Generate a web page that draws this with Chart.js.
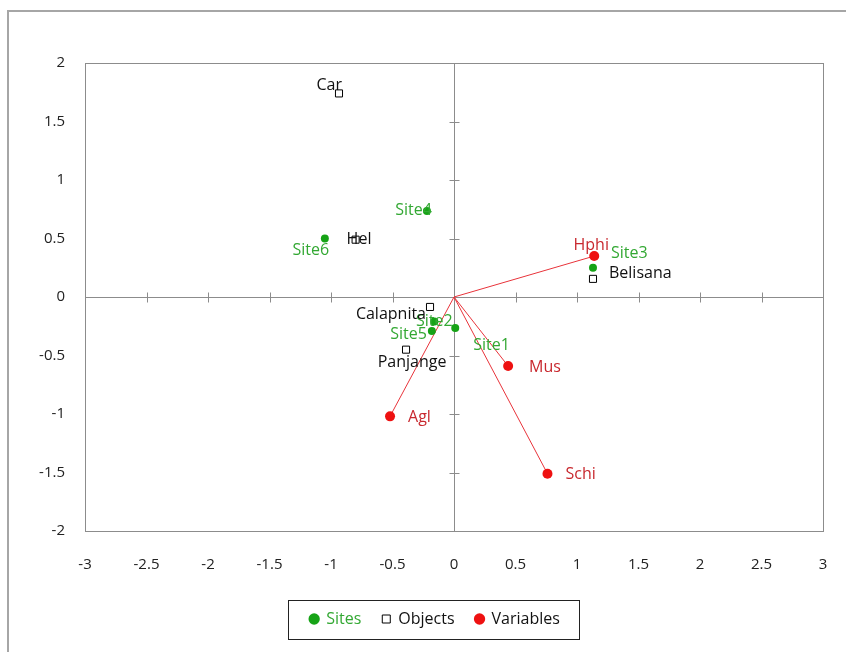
<!DOCTYPE html>
<html>
<head>
<meta charset="utf-8">
<script src="https://cdn.jsdelivr.net/npm/chart.js@4"></script>
<style>
    body { margin: 0; background: #fff; }
    #wrap { position: relative; width: 846px; height: 652px; overflow: hidden; }
    #frame { position: absolute; left: 7px; top: 10px; width: 860px; height: 680px; border: 2px solid #a6a6a6; box-sizing: border-box; }
    canvas { position: absolute; left: 0; top: 0; }
</style>
</head>
<body>
<div id="wrap">
    <div id="frame"></div>
    <canvas id="biplot" width="846" height="652"></canvas>
</div>
<script>
// axis ticks
const xTicks = [-3, -2.5, -2, -1.5, -1, -0.5, 0, 0.5, 1, 1.5, 2, 2.5, 3];
const yTicks = [-2, -1.5, -1, -0.5, 0, 0.5, 1, 1.5, 2];

// sites
const siteNames = ['Site1', 'Site2', 'Site3', 'Site4', 'Site5', 'Site6'];
const siteX = [0.01, -0.16, 1.13, -0.22, -0.18, -1.05];
const siteY = [-0.265, -0.21, 0.25, 0.735, -0.29, 0.50];

// objects
const objectNames = ['Car', 'Hel', 'Belisana', 'Calapnita', 'Panjange'];
const objectX = [-0.935, -0.80, 1.13, -0.195, -0.39];
const objectY = [1.74, 0.49, 0.155, -0.085, -0.45];

// variables
const varNames = ['Hphi', 'Mus', 'Agl', 'Schi'];
const varX = [1.14, 0.44, -0.52, 0.76];
const varY = [0.35, -0.59, -1.02, -1.51];

// label placement (pixel offset from the point, text alignment)
const siteLabelPos = [[18, 17, 'left'], [0, 0, 'center'], [18, -14, 'left'], [5, -1, 'right'], [-5, 4, 'right'], [-14, 12, 'center']];
const objectLabelPos = [[3, -8, 'right'], [-9, 0, 'left'], [16, -5, 'left'], [-4, 7, 'right'], [6, 13, 'center']];
const varLabelPos = [[-3, -11, 'center'], [21, 1, 'left'], [18, 1, 'left'], [18, 1, 'left']];

const GREEN = '#16a316';
const GREEN_TXT = '#33a833';
const RED = '#ee1111';
const RED_TXT = '#c8282e';
const AXIS = '#8c8c8c';
const FONT = '"Open Sans", sans-serif';

function toPoints(xs, ys) {
    return xs.map((x, i) => ({ x: x, y: ys[i] }));
}

const vectorSets = varNames.map((name, i) => ({
    label: 'vec-' + name,
    data: [{ x: 0, y: 0 }, { x: varX[i], y: varY[i] }],
    showLine: true,
    borderColor: '#e8333a',
    borderWidth: 1,
    pointRadius: 0,
    fill: false
}));

// frame, zero axes with cross ticks
const axesPlugin = {
    id: 'axesPlugin',
    beforeDatasetsDraw(chart) {
        const { ctx, chartArea: a, scales: { x, y } } = chart;
        ctx.save();
        ctx.strokeStyle = AXIS;
        ctx.lineWidth = 1;
        ctx.strokeRect(Math.round(a.left) + 0.5, Math.round(a.top) + 0.5, Math.round(a.right - a.left), Math.round(a.bottom - a.top));
        const x0 = Math.round(x.getPixelForValue(0)) + 0.5;
        const y0 = Math.round(y.getPixelForValue(0)) + 0.5;
        ctx.beginPath();
        ctx.moveTo(a.left, y0);
        ctx.lineTo(a.right, y0);
        ctx.moveTo(x0, a.top);
        ctx.lineTo(x0, a.bottom);
        xTicks.forEach(v => {
            const px = Math.round(x.getPixelForValue(v)) + 0.5;
            ctx.moveTo(px, y0 - 5);
            ctx.lineTo(px, y0 + 5);
        });
        yTicks.forEach(v => {
            const py = Math.round(y.getPixelForValue(v)) + 0.5;
            ctx.moveTo(x0 - 5, py);
            ctx.lineTo(x0 + 5, py);
        });
        ctx.stroke();
        ctx.restore();
    }
};

// point names
const labelPlugin = {
    id: 'labelPlugin',
    afterDatasetsDraw(chart) {
        const { ctx, scales: { x, y } } = chart;
        ctx.save();
        ctx.font = '16px ' + FONT;
        ctx.textBaseline = 'middle';
        const groups = [
            [siteNames, siteX, siteY, siteLabelPos, GREEN_TXT],
            [objectNames, objectX, objectY, objectLabelPos, '#111'],
            [varNames, varX, varY, varLabelPos, RED_TXT]
        ];
        groups.forEach(([names, xs, ys, pos, color]) => {
            ctx.fillStyle = color;
            names.forEach((n, i) => {
                ctx.textAlign = pos[i][2];
                ctx.fillText(n, x.getPixelForValue(xs[i]) + pos[i][0], y.getPixelForValue(ys[i]) + pos[i][1]);
            });
        });
        ctx.restore();
    }
};

// box around the legend
const legendBox = {
    id: 'legendBox',
    afterDraw(chart) {
        const lg = chart.legend;
        if (!lg || !lg.legendHitBoxes.length) return;
        const boxes = lg.legendHitBoxes;
        const left = Math.min(...boxes.map(b => b.left)) - 22;
        const right = Math.max(...boxes.map(b => b.left + b.width)) + 19;
        const cy = boxes[0].top + boxes[0].height / 2;
        const ctx = chart.ctx;
        ctx.save();
        ctx.strokeStyle = '#222';
        ctx.lineWidth = 1;
        ctx.strokeRect(Math.round(left) + 0.5, Math.round(cy - 19) + 0.5, Math.round(right - left), 39);
        ctx.restore();
    }
};

new Chart(document.getElementById('biplot'), {
    type: 'scatter',
    data: {
        datasets: [
            {
                label: 'Sites',
                data: toPoints(siteX, siteY),
                pointStyle: 'circle',
                pointRadius: 4,
                backgroundColor: GREEN,
                borderColor: GREEN,
                borderWidth: 0
            },
            {
                label: 'Objects',
                data: toPoints(objectX, objectY),
                pointStyle: 'rect',
                pointRadius: 5,
                backgroundColor: '#fff',
                borderColor: '#000',
                borderWidth: 1
            },
            {
                label: 'Variables',
                data: toPoints(varX, varY),
                pointStyle: 'circle',
                pointRadius: 5,
                backgroundColor: RED,
                borderColor: RED,
                borderWidth: 0
            },
            ...vectorSets
        ]
    },
    options: {
        responsive: false,
        animation: false,
        layout: { padding: { left: 24, right: 0, top: 63, bottom: 22 } },
        scales: {
            x: {
                type: 'linear',
                min: -3,
                max: 3,
                grid: { display: false, drawTicks: false },
                border: { display: false },
                afterBuildTicks: s => { s.ticks = xTicks.map(v => ({ value: v })); },
                afterFit: s => { s.height = 59; s.paddingLeft = 0; s.paddingRight = 0; },
                ticks: { padding: 25, color: '#222', font: { family: FONT, size: 15 }, maxRotation: 0, callback: v => String(v) }
            },
            y: {
                type: 'linear',
                min: -2,
                max: 2,
                grid: { display: false, drawTicks: false },
                border: { display: false },
                afterBuildTicks: s => { s.ticks = yTicks.map(v => ({ value: v })); },
                afterFit: s => { s.width = 61; s.paddingTop = 0; s.paddingBottom = 0; },
                ticks: { padding: 20, color: '#222', font: { family: FONT, size: 15 }, callback: v => String(v) }
            },
            // empty right axis, only keeps the gap on the right of the plot
            yRight: {
                type: 'linear',
                position: 'right',
                min: -2,
                max: 2,
                grid: { display: false, drawTicks: false },
                border: { display: false },
                ticks: { display: false },
                afterFit: s => { s.width = 23; s.paddingTop = 0; s.paddingBottom = 0; }
            }
        },
        plugins: {
            tooltip: { enabled: false },
            legend: {
                position: 'bottom',
                maxHeight: 40,
                labels: {
                    usePointStyle: true,
                    boxWidth: 8,
                    boxHeight: 8,
                    padding: 21,
                    font: { family: FONT, size: 16 },
                    filter: item => !item.text.startsWith('vec-'),
                    generateLabels: chart => {
                        const items = Chart.defaults.plugins.legend.labels.generateLabels(chart);
                        return items.map(it => {
                            it.fontColor = it.text === 'Sites' ? GREEN_TXT : '#111';
                            return it;
                        });
                    }
                }
            }
        }
    },
    plugins: [axesPlugin, labelPlugin, legendBox]
});
</script>
</body>
</html>
